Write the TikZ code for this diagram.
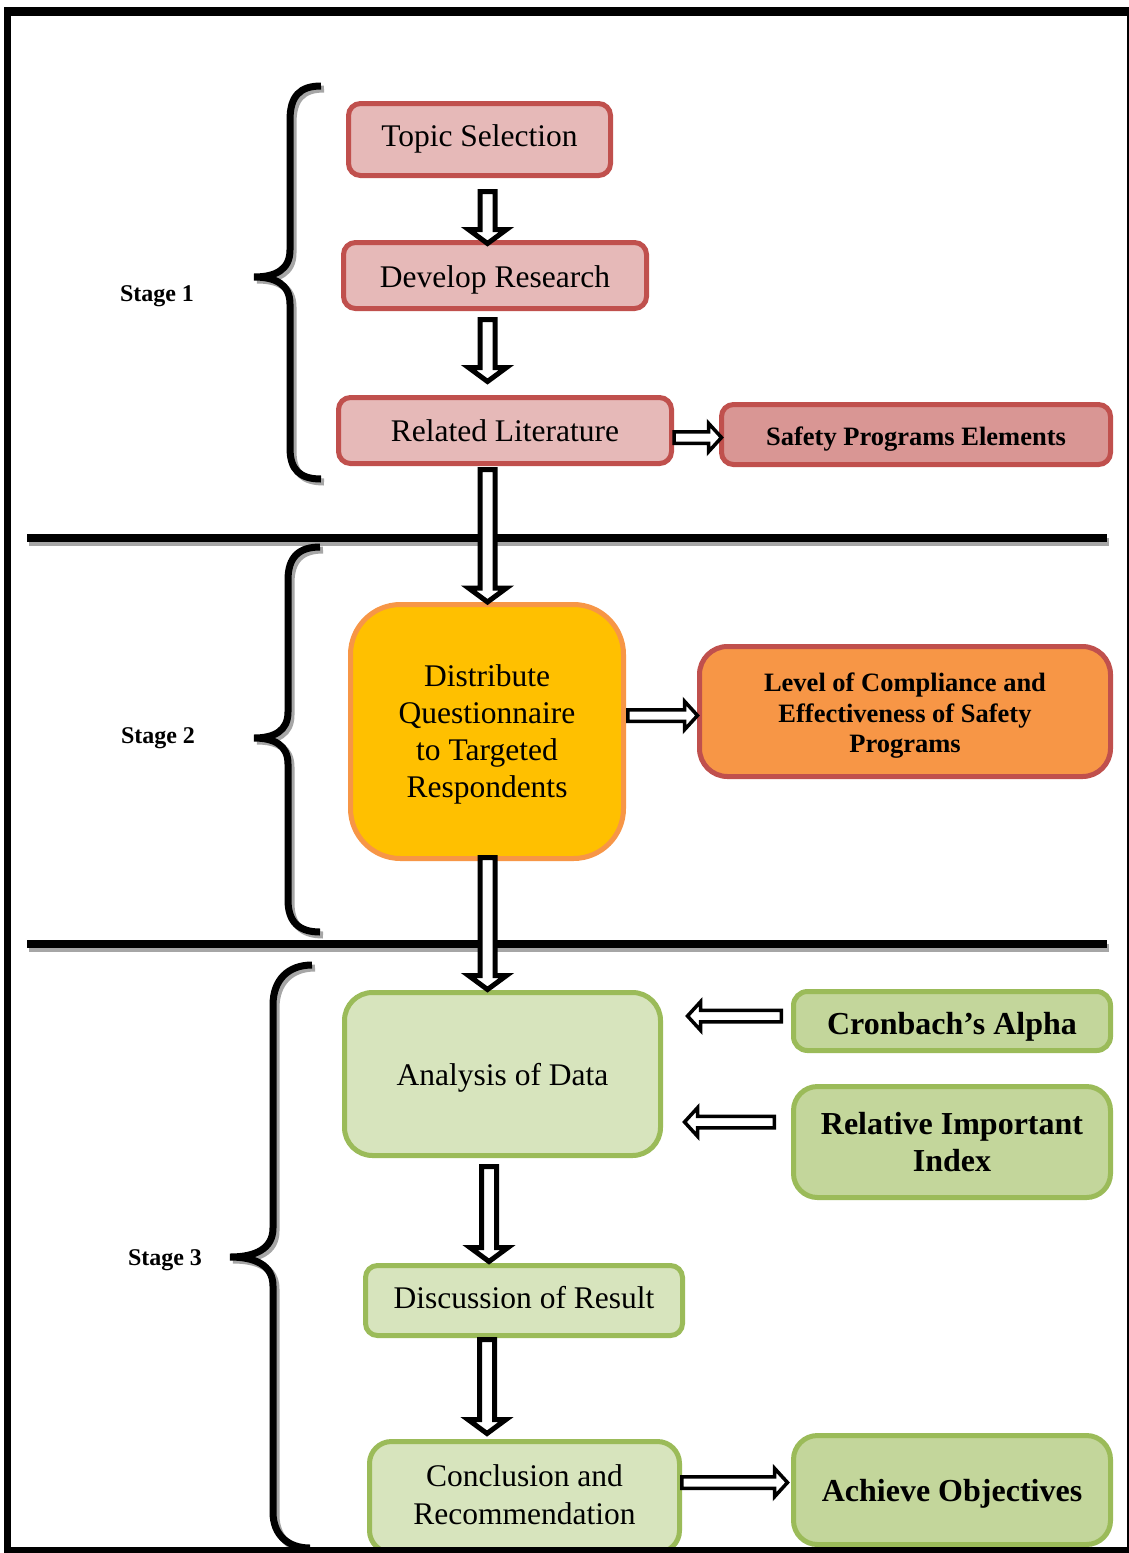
\documentclass[tikz,border=0pt]{standalone}
\usepackage{fontspec}
\setmainfont{Liberation Serif}
\usetikzlibrary{calc}
\definecolor{pinkF}{HTML}{E6B9B8}
\definecolor{redB}{HTML}{C0504D}
\definecolor{pinkD}{HTML}{D99694}
\definecolor{goldF}{HTML}{FFC000}
\definecolor{orangeB}{HTML}{F79646}
\definecolor{greenL}{HTML}{D7E4BD}
\definecolor{greenM}{HTML}{C3D69B}
\definecolor{greenB}{HTML}{9BBB59}
\definecolor{shadowG}{HTML}{A6A6A6}
% text block with declared height/depth: baseline of first line at (H-D)/2 below node centre
\newcommand\bltext[3]{\raisebox{0pt}[#1pt][#2pt]{\begin{tabular}[t]{@{}c@{}}#3\end{tabular}}}
\tikzset{
  box/.style={draw, line width=5pt, rounded corners=12pt, align=center, inner sep=0pt,
    font=\fontsize{31.5}{37.5}\selectfont},
  pinkbox/.style={box, fill=pinkF, draw=redB},
  boldbox/.style={box, font=\bfseries\fontsize{32}{38}\selectfont},
  lgbox/.style={box, fill=greenL, draw=greenB},
  mgbox/.style={boldbox, fill=greenM, draw=greenB},
  stagelbl/.style={font=\bfseries\fontsize{24}{28}\selectfont, inner sep=0pt},
  bracepath/.style={line width=7pt},
  sepline/.style={line width=8pt},
  blockarr/.style n args={4}{draw=black, fill=white, line width=#1, line join=miter, miter limit=10,
    to path={($(\tikztostart)!#2!90:(\tikztotarget)$)
      -- ($(\tikztotarget)!#4!(\tikztostart)!#2!-90:(\tikztostart)$)
      -- ($(\tikztotarget)!#4!(\tikztostart)!#3!-90:(\tikztostart)$)
      -- (\tikztotarget)
      -- ($(\tikztotarget)!#4!(\tikztostart)!#3!90:(\tikztostart)$)
      -- ($(\tikztotarget)!#4!(\tikztostart)!#2!90:(\tikztostart)$)
      -- ($(\tikztostart)!#2!-90:(\tikztotarget)$) -- cycle}},
  varr/.style={blockarr={5pt}{7.5pt}{19pt}{14pt}},
  harr/.style={blockarr={3.5pt}{5.75pt}{14.25pt}{13pt}},
}
\begin{document}
\begin{tikzpicture}[x=1pt,y=1pt]
\useasboundingbox (0,0) rectangle (1129,-1553);
\fill[white] (0,0) rectangle (1129,-1553);

% separators
\draw[sepline, shadowG] (29,-542) -- (1109,-542);
\draw[sepline, black] (27,-538) -- (1107,-538);
\draw[sepline, shadowG] (29,-948) -- (1109,-948);
\draw[sepline, black] (27,-944) -- (1107,-944);

% braces (shadow then brace)
\foreach \c/\dx/\dy in {shadowG/3/-3, black/0/0}{
  \begin{scope}[shift={(\dx,\dy)}]
  \draw[bracepath, \c] (321,-86) .. controls (300,-86) and (290,-96) .. (290,-120) -- (290,-250)
     .. controls (290,-270) and (275,-277) .. (254,-277)
     .. controls (275,-277) and (290,-284) .. (290,-304) -- (290,-448)
     .. controls (290,-470) and (300,-479) .. (321,-479);
  \draw[bracepath, \c] (320,-547) .. controls (299,-547) and (288,-557) .. (288,-580) -- (288,-712)
     .. controls (288,-731) and (274,-738) .. (254,-738)
     .. controls (274,-738) and (288,-745) .. (288,-764) -- (288,-900)
     .. controls (288,-922) and (299,-932) .. (320,-932);
  \draw[bracepath, \c] (312,-965) .. controls (288,-965) and (273,-980) .. (273,-1005) -- (273,-1228)
     .. controls (273,-1249) and (255,-1257) .. (230,-1257)
     .. controls (255,-1257) and (273,-1265) .. (273,-1286) -- (273,-1512)
     .. controls (273,-1535) and (288,-1548) .. (310,-1548);
  \end{scope}
}

% stage labels
\node[stagelbl] (s1) at (157,-296) {Stage 1};
\node[stagelbl] (s2) at (158,-738) {Stage 2};
\node[stagelbl] (s3) at (165,-1260) {Stage 3};

% nodes
\node[pinkbox, minimum width=262pt, minimum height=72pt] (ts) at (479.5,-139.5) {\bltext{14.4}{0}{Topic Selection}};
\node[pinkbox, minimum width=303pt, minimum height=66pt] (dr) at (495,-275.5) {\bltext{23.6}{0}{Develop Research}};
\node[pinkbox, minimum width=333pt, minimum height=66pt] (rl) at (505,-430.5) {\bltext{22.4}{0}{Related Literature}};
\node[box, fill=pinkD, draw=redB, font=\bfseries\fontsize{26.5}{31.5}\selectfont,
      minimum width=389pt, minimum height=60pt] (spe) at (916,-434.5) {\bltext{21}{0}{Safety Programs Elements}};
\node[box, fill=goldF, draw=orangeB, rounded corners=50pt, font=\fontsize{31.5}{37}\selectfont,
      minimum width=273pt, minimum height=254pt]
      (dq) at (487,-731.5) {\bltext{0}{89.6}{Distribute\\Questionnaire\\to Targeted\\Respondents}};
\node[box, fill=orangeB, draw=redB, rounded corners=28pt, font=\bfseries\fontsize{26.5}{30.5}\selectfont,
      minimum width=411pt, minimum height=130pt] (lc) at (905,-711.5)
      {\bltext{0}{39.6}{Level of Compliance and\\Effectiveness of Safety\\Programs}};
\node[lgbox, rounded corners=28pt, minimum width=316pt, minimum height=163pt] (ad) at (502.5,-1074) {\bltext{22}{0}{Analysis of Data}};
\node[mgbox, rounded corners=14pt, minimum width=317pt, minimum height=59pt] (ca) at (952,-1021) {\bltext{26}{0}{Cronbach’s Alpha}};
\node[mgbox, rounded corners=24pt, font=\bfseries\fontsize{32}{37.7}\selectfont, minimum width=317pt, minimum height=111pt]
      (rii) at (952,-1142) {\bltext{0}{16}{Relative Important\\Index}};
\node[lgbox, rounded corners=12pt, minimum width=317pt, minimum height=70pt] (dis) at (524,-1300.5) {\bltext{15.6}{0}{Discussion of Result}};
\node[lgbox, rounded corners=22pt, font=\fontsize{31.5}{37.3}\selectfont, minimum width=310pt, minimum height=111pt]
      (cr) at (524.5,-1497) {\bltext{0}{20.6}{Conclusion and\\Recommendation}};
\node[mgbox, rounded corners=24pt, minimum width=317pt, minimum height=109pt] (ao) at (952,-1490) {\bltext{23.4}{0}{Achieve Objectives}};

% vertical arrows
\draw[varr] ([xshift=8pt,yshift=-13.5pt]ts.south) to ([xshift=-7.5pt,yshift=-3.5pt]dr.north);
\draw[varr] ([xshift=-7.5pt,yshift=-8.5pt]dr.south) to ([xshift=-17.5pt,yshift=13.5pt]rl.north);
\draw[varr] ([xshift=-17.5pt,yshift=-3.5pt]rl.south) to ([xshift=0.5pt]dq.north);
\draw[varr] ([xshift=0.5pt,yshift=3.5pt]dq.south) to ([xshift=-15pt,yshift=0.5pt]ad.north);
\draw[varr] ([xshift=-13.5pt,yshift=-8.5pt]ad.south) to ([xshift=-35pt,yshift=1.5pt]dis.north);
\draw[varr] ([xshift=-37pt,yshift=-1.5pt]dis.south) to ([xshift=-37.5pt,yshift=5.5pt]cr.north);

% horizontal arrows
\draw[harr] ([yshift=-7pt]rl.east) to ([xshift=2.5pt,yshift=-3pt]spe.west);
\draw[harr] ([xshift=1.75pt,yshift=16pt]dq.east) to ([xshift=0.5pt,yshift=-4pt]lc.west);
\draw[harr] ([xshift=-9.75pt,yshift=5pt]ca.west) to ([xshift=24.5pt,yshift=58pt]ad.east);
\draw[harr] ([xshift=-16.75pt,yshift=20pt]rii.west) to ([xshift=21.5pt,yshift=-48pt]ad.east);
\draw[harr] ([xshift=-0.25pt,yshift=14.5pt]cr.east) to ([xshift=-3.5pt,yshift=7.5pt]ao.west);

% outer frame
\draw[line width=9pt] (4,-11.5) -- (1129,-11.5);
\draw[line width=7pt] (7.5,-7) -- (7.5,-1553);
\draw[line width=2pt] (1127.5,-7) -- (1127.5,-1553);
\draw[line width=6pt] (4,-1550) -- (1129,-1550);
\end{tikzpicture}
\end{document}
